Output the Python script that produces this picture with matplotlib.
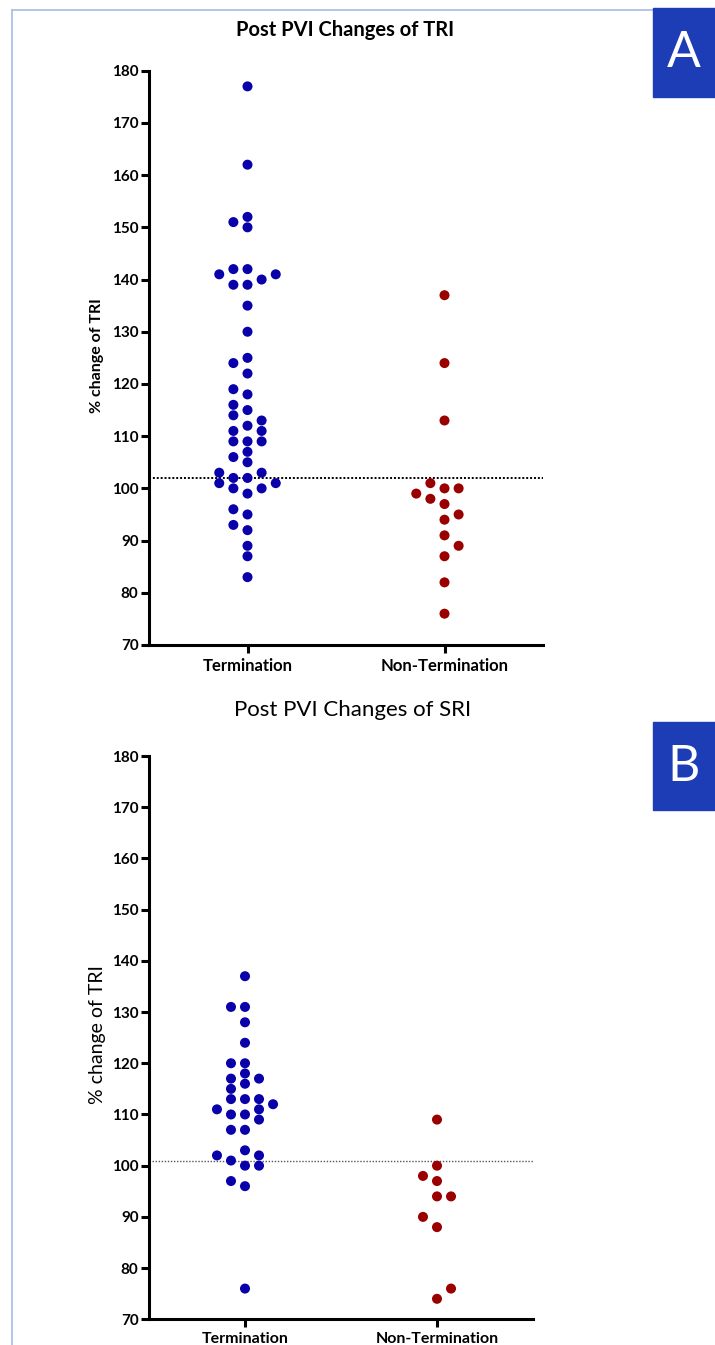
import matplotlib
matplotlib.use('Agg')
import matplotlib.pyplot as plt
from matplotlib.patches import Rectangle
from matplotlib.lines import Line2D
import numpy as np

plt.rcParams['font.family'] = ['Lato', 'DejaVu Sans']

# ---------------- data ----------------
categories = ['Termination', 'Non-Termination']
yticks = [70, 80, 90, 100, 110, 120, 130, 140, 150, 160, 170, 180]

tri_termination = [177, 162, 150, 142, 139, 135, 130, 125, 122, 118, 115, 112, 109, 105,
                   102, 99, 95, 92, 87, 83,
                   151, 139, 124, 116, 114, 109, 107, 102, 100, 96, 89,
                   152, 142, 140, 119, 113, 109, 106, 103, 100, 93,
                   141, 111, 103, 101,
                   141, 111, 101]
tri_non_termination = [137, 124, 113, 100, 97, 94, 91, 87, 82, 76,
                       101, 89, 100, 98, 95, 99]
tri_threshold = 102

sri_termination = [137, 131, 128, 124, 120, 116, 113, 110, 107, 103, 100, 96, 76,
                   131, 117, 113, 110, 109, 101, 97,
                   120, 117, 113, 111, 107, 100,
                   118, 111, 102,
                   115, 112, 102]
sri_non_termination = [74, 76, 88, 90, 94, 94, 97, 98, 100, 109]
sri_threshold = 101

BLUE = '#0a00aa'
RED = '#9a0000'
PANEL = '#1c3db5'
W, H = 715, 1345


def swarm_offsets(values, step, gap, alternate=False, first=-1):
    """Greedy beeswarm: each point takes the most central free column.
    With alternate=True the preferred side flips after every off-centre point."""
    placed = []
    slots = []
    pref = first
    for v in values:
        cands = [0]
        for k in range(1, 5):
            cands += [pref * k, -pref * k]
        for s in cands:
            if all(not (ps == s and abs(pv - v) < gap) for ps, pv in placed):
                break
        placed.append((s, v))
        slots.append(s)
        if alternate and s != 0:
            pref = -int(np.sign(s))
    return np.array(slots) * step


def style_axes(ax, xfs):
    for side in ['top', 'right']:
        ax.spines[side].set_visible(False)
    for side in ['left', 'bottom']:
        ax.spines[side].set_linewidth(2.2)
        ax.spines[side].set_color('black')
    ax.set_xlim(-0.5, 1.5)
    ax.set_ylim(70, 180)
    ax.set_yticks(yticks)
    ax.set_xticks([0, 1])
    ax.set_xticklabels(categories)
    ax.tick_params(axis='both', direction='out', length=5.5, width=2.2, colors='black')
    ax.tick_params(axis='y', pad=2)
    ax.tick_params(axis='x', pad=4)
    for lab in ax.get_yticklabels():
        lab.set_fontweight('bold')
        lab.set_fontsize(11)
    for lab in ax.get_xticklabels():
        lab.set_fontweight('bold')
        lab.set_fontsize(xfs)


fig = plt.figure(figsize=(W / 100, H / 100), dpi=100)

# ---------------- panel A ----------------
axA = fig.add_axes([149 / W, 1 - 645 / H, 394 / W, (645 - 70.7) / H])
style_axes(axA, 12)
step = 0.0717
offA0 = swarm_offsets(tri_termination, step, 1.5)
offA1 = swarm_offsets(tri_non_termination, step, 2.5, alternate=True, first=-1)
axA.scatter(0 + offA0, tri_termination, s=52, color=BLUE, edgecolors='none', zorder=3)
axA.scatter(1 + offA1, tri_non_termination, s=52, color=RED, edgecolors='none', zorder=3)
axA.axhline(tri_threshold, color='black', lw=1.4, ls=(0, (1, 1)), zorder=2)

# ---------------- panel B ----------------
axB = fig.add_axes([149 / W, 1 - 1319.3 / H, 384 / W, (1319.3 - 756) / H])
style_axes(axB, 11.5)
step = 0.073
offB0 = swarm_offsets(sri_termination, step, 1.5)
offB1 = swarm_offsets(sri_non_termination, step, 2.5, alternate=True, first=1)
axB.scatter(0 + offB0, sri_termination, s=52, color=BLUE, edgecolors='none', zorder=3)
axB.scatter(1 + offB1, sri_non_termination, s=52, color=RED, edgecolors='none', zorder=3)
axB.axhline(sri_threshold, color='#555555', lw=1.0, ls=(0, (1, 1.2)), zorder=2)

# ---------------- texts ----------------
fig.text(345 / W, 1 - 30 / H, 'Post PVI Changes of TRI', ha='center', va='center',
         fontsize=14.5, fontweight='bold')
fig.text(353 / W, 1 - 710 / H, 'Post PVI Changes of SRI', ha='center', va='center',
         fontsize=16)
fig.text(97 / W, 1 - 356 / H, '% change of TRI', rotation=90, ha='center', va='center',
         fontsize=11.5, fontweight='bold')
fig.text(97 / W, 1 - 1035 / H, '% change of TRI', rotation=90, ha='center', va='center',
         fontsize=14)

# panel label boxes
fig.patches.append(Rectangle((653 / W, 1 - 97 / H), 62 / W, 89 / H,
                             transform=fig.transFigure, color=PANEL, zorder=5))
fig.text(684 / W, 1 - 53 / H, 'A', color='white', fontsize=36, ha='center', va='center',
         zorder=6)
fig.patches.append(Rectangle((653 / W, 1 - 810 / H), 62 / W, 88 / H,
                             transform=fig.transFigure, color=PANEL, zorder=5))
fig.text(684 / W, 1 - 767 / H, 'B', color='white', fontsize=36, ha='center', va='center',
         zorder=6)

# thin frame lines (top & left)
fig.lines.append(Line2D([12 / W, 653 / W], [1 - 10 / H, 1 - 10 / H], transform=fig.transFigure,
                        color='#a8bbe6', lw=1.2))
fig.lines.append(Line2D([12 / W, 12 / W], [1 - 10 / H, 0], transform=fig.transFigure,
                        color='#a8bbe6', lw=1.2))

fig.savefig('out.png', dpi=100)
